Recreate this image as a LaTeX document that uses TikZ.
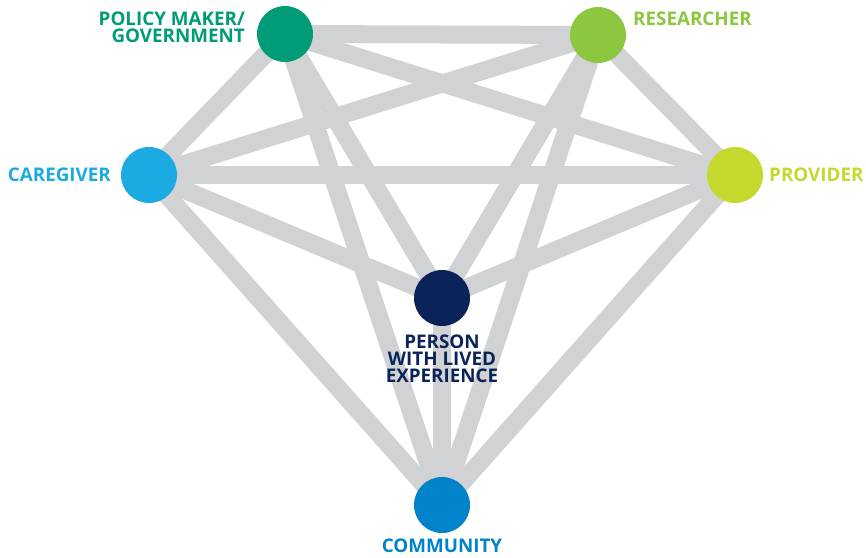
\documentclass[tikz,border=0pt]{standalone}
\usepackage{fontspec}
\setmainfont{Open Sans}
\usepackage{xcolor}
\usepackage{tikz}
\usetikzlibrary{backgrounds, positioning}
\definecolor{politique}{HTML}{009B77}
\definecolor{chercheur}{HTML}{8DC63F}
\definecolor{aidant}{HTML}{1BAAE1}
\definecolor{soignant}{HTML}{C4D82E}
\definecolor{personne}{HTML}{0A2459}
\definecolor{communaute}{HTML}{0083CA}
\definecolor{gris}{HTML}{D1D2D4}
\tikzstyle{rond} = [circle, minimum size = 56pt, inner sep = 0pt, draw = none]
\tikzstyle{texte} = [inner sep = 0pt, font = \bfseries\fontsize{18.8}{17}\selectfont]
\tikzstyle{lien} = [line width = 18pt, draw = gris]

\begin{document}
\begin{tikzpicture}[x = 1pt, y = -1pt]
\useasboundingbox (0,0) rectangle (866,557);

\node (1) [rond, fill = politique]  at (285,34)  {};
\node (2) [rond, fill = chercheur]  at (598,35)  {};
\node (3) [rond, fill = aidant]     at (149,175) {};
\node (4) [rond, fill = soignant]   at (735,175) {};
\node (5) [rond, fill = personne]   at (442,298) {};
\node (6) [rond, fill = communaute] at (442,505) {};

\node (1t) [texte, politique, anchor = north east, align = right] at (245,12) {POLICY MAKER/\\GOVERNMENT};
\node (2t) [texte, chercheur, anchor = base west] at (633,25) {RESEARCHER};
\node (3t) [texte, aidant, anchor = base east] at (111,181) {CAREGIVER};
\node (4t) [texte, soignant, anchor = base west] at (769,181) {PROVIDER};
\node (5t) [texte, personne, anchor = north, align = center] at (442,335) {PERSON\\WITH LIVED\\EXPERIENCE};
\node (6t) [texte, communaute, anchor = base] at (442,552) {COMMUNITY};

\begin{scope}[on background layer]
\draw[lien] (1.center) -- (2.center);
\draw[lien] (1.center) -- (3.center);
\draw[lien] (1.center) -- (4.center);
\draw[lien] (1.center) -- (5.center);
\draw[lien] (1.center) -- (6.center);

\draw[lien] (2.center) -- (3.center);
\draw[lien] (2.center) -- (4.center);
\draw[lien] (2.center) -- (5.center);
\draw[lien] (2.center) -- (6.center);

\draw[lien] (3.center) -- (4.center);
\draw[lien] (3.center) -- (5.center);
\draw[lien] (3.center) -- (6.center);

\draw[lien] (4.center) -- (5.center);
\draw[lien] (4.center) -- (6.center);

\draw[lien] (5.center) -- (6.center);
\end{scope}

\end{tikzpicture}
\end{document}
